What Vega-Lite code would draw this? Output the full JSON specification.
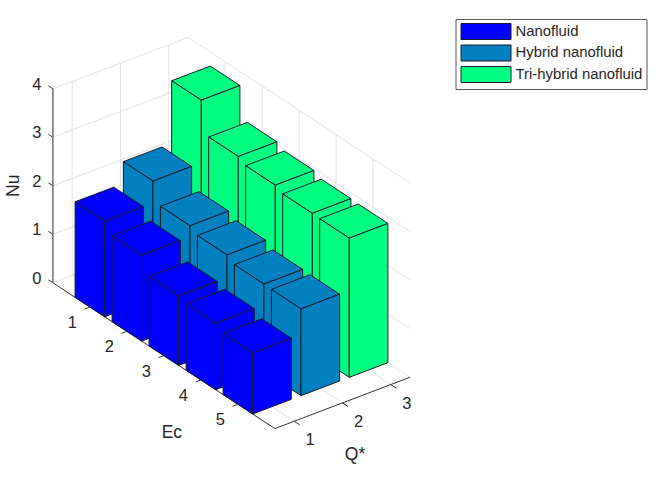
{
"$schema":"https://vega.github.io/schema/vega-lite/v6.json",
"width":661,"height":480,"padding":0,"autosize":{"type":"none"},
"background":"white",
"config":{"view":{"stroke":null},"font":"Liberation Sans"},
"datasets":{
"bars":[
{"series":"Tri-hybrid nanofluid","Q":3,"Ec":1,"Nu":3.71},
{"series":"Tri-hybrid nanofluid","Q":3,"Ec":2,"Nu":3.05},
{"series":"Tri-hybrid nanofluid","Q":3,"Ec":3,"Nu":2.96},
{"series":"Tri-hybrid nanofluid","Q":3,"Ec":4,"Nu":2.88},
{"series":"Tri-hybrid nanofluid","Q":3,"Ec":5,"Nu":2.87},
{"series":"Hybrid nanofluid","Q":2,"Ec":1,"Nu":2.42},
{"series":"Hybrid nanofluid","Q":2,"Ec":2,"Nu":2.0},
{"series":"Hybrid nanofluid","Q":2,"Ec":3,"Nu":1.9},
{"series":"Hybrid nanofluid","Q":2,"Ec":4,"Nu":1.8},
{"series":"Hybrid nanofluid","Q":2,"Ec":5,"Nu":1.79},
{"series":"Nanofluid","Q":1,"Ec":1,"Nu":1.97},
{"series":"Nanofluid","Q":1,"Ec":2,"Nu":1.77},
{"series":"Nanofluid","Q":1,"Ec":3,"Nu":1.43},
{"series":"Nanofluid","Q":1,"Ec":4,"Nu":1.37},
{"series":"Nanofluid","Q":1,"Ec":5,"Nu":1.26}
],
"guides":[
{"kind":"grid","e1":0,"q1":1,"n1":0,"e2":0,"q2":1,"n2":4},
{"kind":"grid","e1":0,"q1":2,"n1":0,"e2":0,"q2":2,"n2":4},
{"kind":"grid","e1":0,"q1":3,"n1":0,"e2":0,"q2":3,"n2":4},
{"kind":"grid","e1":0,"q1":0.6,"n1":0,"e2":0,"q2":3.4,"n2":0},
{"kind":"grid","e1":0,"q1":0.6,"n1":1,"e2":0,"q2":3.4,"n2":1},
{"kind":"grid","e1":0,"q1":0.6,"n1":2,"e2":0,"q2":3.4,"n2":2},
{"kind":"grid","e1":0,"q1":0.6,"n1":3,"e2":0,"q2":3.4,"n2":3},
{"kind":"grid","e1":0,"q1":0.6,"n1":4,"e2":0,"q2":3.4,"n2":4},
{"kind":"grid","e1":1,"q1":3.4,"n1":0,"e2":1,"q2":3.4,"n2":4},
{"kind":"grid","e1":2,"q1":3.4,"n1":0,"e2":2,"q2":3.4,"n2":4},
{"kind":"grid","e1":3,"q1":3.4,"n1":0,"e2":3,"q2":3.4,"n2":4},
{"kind":"grid","e1":4,"q1":3.4,"n1":0,"e2":4,"q2":3.4,"n2":4},
{"kind":"grid","e1":5,"q1":3.4,"n1":0,"e2":5,"q2":3.4,"n2":4},
{"kind":"grid","e1":0,"q1":3.4,"n1":0,"e2":6,"q2":3.4,"n2":0},
{"kind":"grid","e1":0,"q1":3.4,"n1":1,"e2":6,"q2":3.4,"n2":1},
{"kind":"grid","e1":0,"q1":3.4,"n1":2,"e2":6,"q2":3.4,"n2":2},
{"kind":"grid","e1":0,"q1":3.4,"n1":3,"e2":6,"q2":3.4,"n2":3},
{"kind":"grid","e1":0,"q1":3.4,"n1":4,"e2":6,"q2":3.4,"n2":4},
{"kind":"grid","e1":1,"q1":0.6,"n1":0,"e2":1,"q2":3.4,"n2":0},
{"kind":"grid","e1":2,"q1":0.6,"n1":0,"e2":2,"q2":3.4,"n2":0},
{"kind":"grid","e1":3,"q1":0.6,"n1":0,"e2":3,"q2":3.4,"n2":0},
{"kind":"grid","e1":4,"q1":0.6,"n1":0,"e2":4,"q2":3.4,"n2":0},
{"kind":"grid","e1":5,"q1":0.6,"n1":0,"e2":5,"q2":3.4,"n2":0},
{"kind":"grid","e1":0,"q1":1,"n1":0,"e2":6,"q2":1,"n2":0},
{"kind":"grid","e1":0,"q1":2,"n1":0,"e2":6,"q2":2,"n2":0},
{"kind":"grid","e1":0,"q1":3,"n1":0,"e2":6,"q2":3,"n2":0},
{"kind":"axis","e1":0,"q1":0.6,"n1":0,"e2":6,"q2":0.6,"n2":0},
{"kind":"axis","e1":6,"q1":0.6,"n1":0,"e2":6,"q2":3.4,"n2":0},
{"kind":"axis","e1":1,"q1":0.6,"n1":0,"e2":1,"q2":0.49,"n2":0},
{"kind":"axis","e1":2,"q1":0.6,"n1":0,"e2":2,"q2":0.49,"n2":0},
{"kind":"axis","e1":3,"q1":0.6,"n1":0,"e2":3,"q2":0.49,"n2":0},
{"kind":"axis","e1":4,"q1":0.6,"n1":0,"e2":4,"q2":0.49,"n2":0},
{"kind":"axis","e1":5,"q1":0.6,"n1":0,"e2":5,"q2":0.49,"n2":0},
{"kind":"axis","e1":6,"q1":1,"n1":0,"e2":6.15,"q2":1,"n2":0},
{"kind":"axis","e1":6,"q1":2,"n1":0,"e2":6.15,"q2":2,"n2":0},
{"kind":"axis","e1":6,"q1":3,"n1":0,"e2":6.15,"q2":3,"n2":0},
{"kind":"axis","e1":0,"q1":0.6,"n1":0,"e2":-0.12,"q2":0.6,"n2":0},
{"kind":"axis","e1":0,"q1":0.6,"n1":1,"e2":-0.12,"q2":0.6,"n2":1},
{"kind":"axis","e1":0,"q1":0.6,"n1":2,"e2":-0.12,"q2":0.6,"n2":2},
{"kind":"axis","e1":0,"q1":0.6,"n1":3,"e2":-0.12,"q2":0.6,"n2":3},
{"kind":"axis","e1":0,"q1":0.6,"n1":4,"e2":-0.12,"q2":0.6,"n2":4},
{"kind":"zaxis","e1":0,"q1":0.6,"n1":0,"e2":0,"q2":0.6,"n2":4}
],
"labels":[
{"kind":"ec","t":"1","e":1,"q":0.6,"n":0},
{"kind":"ec","t":"2","e":2,"q":0.6,"n":0},
{"kind":"ec","t":"3","e":3,"q":0.6,"n":0},
{"kind":"ec","t":"4","e":4,"q":0.6,"n":0},
{"kind":"ec","t":"5","e":5,"q":0.6,"n":0},
{"kind":"q","t":"1","e":6,"q":1,"n":0},
{"kind":"q","t":"2","e":6,"q":2,"n":0},
{"kind":"q","t":"3","e":6,"q":3,"n":0},
{"kind":"nu","t":"0","e":0,"q":0.6,"n":0},
{"kind":"nu","t":"1","e":0,"q":0.6,"n":1},
{"kind":"nu","t":"2","e":0,"q":0.6,"n":2},
{"kind":"nu","t":"3","e":0,"q":0.6,"n":3},
{"kind":"nu","t":"4","e":0,"q":0.6,"n":4},
{"kind":"ect","t":"Ec","e":3,"q":0.6,"n":0},
{"kind":"qt","t":"Q*","e":6,"q":2,"n":0},
{"kind":"nut","t":"Nu","e":0,"q":0.6,"n":2}
]
},
"layer":[
{"data":{"name":"guides"},
 "transform":[{"filter":"datum.kind=='grid'"},
  {"calculate":"23.9+37*datum.e1+48.3*datum.q1","as":"x1"},
  {"calculate":"293.8+24.3*datum.e1-18.35*datum.q1-48.5*datum.n1","as":"y1"},
  {"calculate":"23.9+37*datum.e2+48.3*datum.q2","as":"x2"},
  {"calculate":"293.8+24.3*datum.e2-18.35*datum.q2-48.5*datum.n2","as":"y2"}],
 "mark":{"type":"rule","stroke":"#e2e2e2","strokeWidth":1},
 "encoding":{
  "x":{"field":"x1","type":"quantitative","axis":null,"scale":{"domain":[0,661],"nice":false,"zero":false}},
  "y":{"field":"y1","type":"quantitative","axis":null,"scale":{"domain":[480,0],"nice":false,"zero":false}},
  "x2":{"field":"x2"},"y2":{"field":"y2"}}},
{"data":{"name":"guides"},
 "transform":[{"filter":"datum.kind=='axis'"},
  {"calculate":"23.9+37*datum.e1+48.3*datum.q1","as":"x1"},
  {"calculate":"293.8+24.3*datum.e1-18.35*datum.q1-48.5*datum.n1","as":"y1"},
  {"calculate":"23.9+37*datum.e2+48.3*datum.q2","as":"x2"},
  {"calculate":"293.8+24.3*datum.e2-18.35*datum.q2-48.5*datum.n2","as":"y2"}],
 "mark":{"type":"rule","stroke":"#333333","strokeWidth":1},
 "encoding":{
  "x":{"field":"x1","type":"quantitative","axis":null,"scale":{"domain":[0,661],"nice":false,"zero":false}},
  "y":{"field":"y1","type":"quantitative","axis":null,"scale":{"domain":[480,0],"nice":false,"zero":false}},
  "x2":{"field":"x2"},"y2":{"field":"y2"}}},
{"data":{"name":"guides"},
 "transform":[{"filter":"datum.kind=='zaxis'"},
  {"calculate":"23.9+37*datum.e1+48.3*datum.q1","as":"x1"},
  {"calculate":"293.8+24.3*datum.e1-18.35*datum.q1-48.5*datum.n1","as":"y1"},
  {"calculate":"23.9+37*datum.e2+48.3*datum.q2","as":"x2"},
  {"calculate":"293.8+24.3*datum.e2-18.35*datum.q2-48.5*datum.n2","as":"y2"}],
 "mark":{"type":"rule","stroke":"#6e6e6e","strokeWidth":1.5},
 "encoding":{
  "x":{"field":"x1","type":"quantitative","axis":null,"scale":{"domain":[0,661],"nice":false,"zero":false}},
  "y":{"field":"y1","type":"quantitative","axis":null,"scale":{"domain":[480,0],"nice":false,"zero":false}},
  "x2":{"field":"x2"},"y2":{"field":"y2"}}},
{"data":{"name":"bars"},
 "transform":[
  {"calculate":"['top','left','right']","as":"face"},
  {"flatten":["face"]},
  {"calculate":"[0,1,2,3,4]","as":"corner"},
  {"flatten":["corner"]},
  {"calculate":"datum.series+'|'+datum.Ec+'|'+datum.face","as":"fid"},
  {"calculate":"datum.face=='right'?1:[-1,1,1,-1,-1][datum.corner]","as":"de"},
  {"calculate":"datum.face=='left'?-1:(datum.face=='right'?[-1,1,1,-1,-1][datum.corner]:[-1,-1,1,1,-1][datum.corner])","as":"dq"},
  {"calculate":"datum.face=='top'?1:[1,1,0,0,1][datum.corner]","as":"dn"},
  {"calculate":"23.9+37*(datum.Ec+0.4*datum.de)+48.3*(datum.Q+0.4*datum.dq)","as":"px"},
  {"calculate":"293.8+24.3*(datum.Ec+0.4*datum.de)-18.35*(datum.Q+0.4*datum.dq)-48.5*datum.Nu*datum.dn","as":"py"}
 ],
 "mark":{"type":"line","stroke":"#1a1a2a","strokeWidth":1,"strokeJoin":"miter","point":false},
 "encoding":{
  "x":{"field":"px","type":"quantitative","axis":null,"scale":{"domain":[0,661],"nice":false,"zero":false}},
  "y":{"field":"py","type":"quantitative","axis":null,"scale":{"domain":[480,0],"nice":false,"zero":false}},
  "detail":{"field":"fid"},
  "order":{"field":"corner","type":"quantitative"},
  "fill":{"field":"series","type":"nominal",
   "scale":{"domain":["Nanofluid","Hybrid nanofluid","Tri-hybrid nanofluid"],"range":["#0000ff","#0080bf","#00ff80"]},
   "legend":{"title":null,"orient":"none","legendX":455.5,"legendY":19,
    "symbolType":"M-3.125,-1H3.125V1H-3.125Z","symbolSize":256,"symbolOffset":18,"symbolStrokeColor":"#1a1a2a","symbolStrokeWidth":1,"symbolOpacity":1,
    "labelFont":"Liberation Sans","labelFontSize":14.9,"labelColor":"#262626","labelLimit":300,"labelOffset":21,
    "rowPadding":0.5,"padding":4,"fillColor":"white","strokeColor":"#555555"}}
 }},
{"data":{"name":"labels"},
 "transform":[{"filter":"datum.kind=='ec'"},
  {"calculate":"23.9+37*datum.e+48.3*datum.q","as":"px"},
  {"calculate":"293.8+24.3*datum.e-18.35*datum.q-48.5*datum.n","as":"py"}],
 "mark":{"type":"text","font":"Liberation Sans","fontSize":16.5,"color":"#262626","align":"center","baseline":"middle","dx":-17.5,"dy":16},
 "encoding":{"x":{"field":"px","type":"quantitative","axis":null,"scale":{"domain":[0,661],"nice":false,"zero":false}},
  "y":{"field":"py","type":"quantitative","axis":null,"scale":{"domain":[480,0],"nice":false,"zero":false}},"text":{"field":"t"}}},
{"data":{"name":"labels"},
 "transform":[{"filter":"datum.kind=='q'"},
  {"calculate":"23.9+37*datum.e+48.3*datum.q","as":"px"},
  {"calculate":"293.8+24.3*datum.e-18.35*datum.q-48.5*datum.n","as":"py"}],
 "mark":{"type":"text","font":"Liberation Sans","fontSize":16.5,"color":"#262626","align":"center","baseline":"middle","dx":16,"dy":19},
 "encoding":{"x":{"field":"px","type":"quantitative","axis":null,"scale":{"domain":[0,661],"nice":false,"zero":false}},
  "y":{"field":"py","type":"quantitative","axis":null,"scale":{"domain":[480,0],"nice":false,"zero":false}},"text":{"field":"t"}}},
{"data":{"name":"labels"},
 "transform":[{"filter":"datum.kind=='nu'"},
  {"calculate":"23.9+37*datum.e+48.3*datum.q","as":"px"},
  {"calculate":"293.8+24.3*datum.e-18.35*datum.q-48.5*datum.n","as":"py"}],
 "mark":{"type":"text","font":"Liberation Sans","fontSize":16.5,"color":"#262626","align":"center","baseline":"middle","dx":-16,"dy":-4},
 "encoding":{"x":{"field":"px","type":"quantitative","axis":null,"scale":{"domain":[0,661],"nice":false,"zero":false}},
  "y":{"field":"py","type":"quantitative","axis":null,"scale":{"domain":[480,0],"nice":false,"zero":false}},"text":{"field":"t"}}},
{"data":{"name":"labels"},
 "transform":[{"filter":"datum.kind=='ect'"},
  {"calculate":"23.9+37*datum.e+48.3*datum.q","as":"px"},
  {"calculate":"293.8+24.3*datum.e-18.35*datum.q-48.5*datum.n","as":"py"}],
 "mark":{"type":"text","font":"Liberation Sans","fontSize":17.5,"color":"#262626","align":"center","baseline":"middle","dx":8,"dy":77},
 "encoding":{"x":{"field":"px","type":"quantitative","axis":null,"scale":{"domain":[0,661],"nice":false,"zero":false}},
  "y":{"field":"py","type":"quantitative","axis":null,"scale":{"domain":[480,0],"nice":false,"zero":false}},"text":{"field":"t"}}},
{"data":{"name":"labels"},
 "transform":[{"filter":"datum.kind=='qt'"},
  {"calculate":"23.9+37*datum.e+48.3*datum.q","as":"px"},
  {"calculate":"293.8+24.3*datum.e-18.35*datum.q-48.5*datum.n","as":"py"}],
 "mark":{"type":"text","font":"Liberation Sans","fontSize":17.5,"color":"#262626","align":"center","baseline":"middle","dx":12.5,"dy":52},
 "encoding":{"x":{"field":"px","type":"quantitative","axis":null,"scale":{"domain":[0,661],"nice":false,"zero":false}},
  "y":{"field":"py","type":"quantitative","axis":null,"scale":{"domain":[480,0],"nice":false,"zero":false}},"text":{"field":"t"}}},
{"data":{"name":"labels"},
 "transform":[{"filter":"datum.kind=='nut'"},
  {"calculate":"23.9+37*datum.e+48.3*datum.q","as":"px"},
  {"calculate":"293.8+24.3*datum.e-18.35*datum.q-48.5*datum.n","as":"py"}],
 "mark":{"type":"text","font":"Liberation Sans","fontSize":17.5,"color":"#262626","align":"center","baseline":"middle","angle":270,"dx":0,"dy":-38.7},
 "encoding":{"x":{"field":"px","type":"quantitative","axis":null,"scale":{"domain":[0,661],"nice":false,"zero":false}},
  "y":{"field":"py","type":"quantitative","axis":null,"scale":{"domain":[480,0],"nice":false,"zero":false}},"text":{"field":"t"}}}
]
}
